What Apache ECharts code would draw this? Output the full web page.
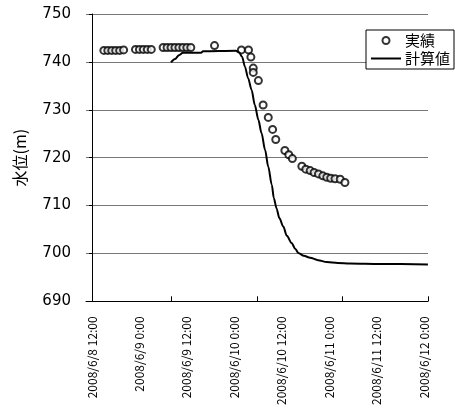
<!DOCTYPE html>
<html>
<head>
<meta charset="utf-8">
<script src="https://cdn.jsdelivr.net/npm/echarts@6/dist/echarts.min.js"></script>
<style>
  html, body { margin: 0; padding: 0; background: #fff; }
  #chart { width: 455px; height: 408px; }
</style>
</head>
<body>
<div id="chart"></div>
<script>
// hours counted from 2008/6/8 12:00
const tickLabels = ['2008/6/8 12:00', '2008/6/9 0:00', '2008/6/9 12:00', '2008/6/10 0:00',
                    '2008/6/10 12:00', '2008/6/11 0:00', '2008/6/11 12:00', '2008/6/12 0:00'];
const labelHours = [0, 12, 24, 36, 48, 60, 72, 84];
const tickHours = [20, 41.75, 63.26, 85.02];

// 実績 (observed)
const obsTime = [3, 4, 5, 6, 7, 8,
                 11, 12, 13, 14, 15,
                 18, 19, 20, 21, 22, 23, 24, 25,
                 31,
                 37.8, 39.6, 40.2, 40.8, 40.8, 42.1, 43.3, 44.6, 45.7, 46.5,
                 48.8, 49.8, 50.7, 53.1, 54.1, 55.2, 56.2, 57.3, 58.4, 59.4,
                 60.4, 61.5, 62.8, 64.0];
const obsLevel = [742.4, 742.4, 742.4, 742.4, 742.4, 742.5,
                  742.6, 742.6, 742.6, 742.6, 742.6,
                  743.0, 743.0, 743.0, 743.0, 743.0, 743.0, 743.0, 743.0,
                  743.4,
                  742.5, 742.5, 741.0, 738.7, 737.8, 736.1, 731.0, 728.4, 725.9, 723.8,
                  721.5, 720.6, 719.8, 718.2, 717.6, 717.3, 716.9, 716.6, 716.2, 715.9,
                  715.7, 715.6, 715.5, 714.8];

// 計算値 (calculated)
const calcTime = [20.0, 21.0, 22.0, 23.0, 27.6, 28.1, 36.4, 37.2, 38.0, 38.7,
                  39.5, 40.4, 41.2, 42.1, 42.9, 43.8, 44.6, 45.5, 46.0, 46.7,
                  47.4, 48.4, 49.3, 50.5, 51.4, 52.2, 53.6, 55.2, 57.2, 59.4,
                  62.2, 65.3, 72.9, 85.0];
const calcLevel = [739.9, 740.6, 741.4, 741.9, 741.9, 742.2, 742.3, 742.0, 741.0, 739.0,
                   736.6, 734.1, 731.0, 727.9, 725.1, 721.6, 718.1, 714.3, 711.6, 709.4,
                   707.4, 705.6, 703.7, 702.2, 701.0, 700.1, 699.5, 699.1, 698.6, 698.2,
                   698.0, 697.9, 697.8, 697.7];

const chart = echarts.init(document.getElementById('chart'));
chart.setOption({
    animation: false,
    backgroundColor: '#fff',
    grid: { left: 86, right: 27, top: 14, bottom: 106 },
    legend: {
        orient: 'vertical',
        left: 366,
        top: 30,
        padding: [3, 4, 3, 4],
        itemGap: 3,
        itemWidth: 30,
        itemHeight: 7,
        borderColor: '#000',
        borderWidth: 1,
        borderRadius: 0,
        backgroundColor: '#fff',
        textStyle: { fontSize: 15, color: '#000', fontFamily: 'Noto Sans CJK JP', padding: [0, 0, 0, -1] },
        data: [
            { name: '実績', icon: 'emptyCircle' },
            { name: '計算値', itemStyle: { opacity: 0 } }
        ]
    },
    xAxis: {
        type: 'value',
        min: -1.52,
        max: 85.02,
        axisLine: { show: true, lineStyle: { color: '#000', width: 1 } },
        axisTick: { show: true, inside: true, length: 5, customValues: tickHours, lineStyle: { color: '#000' } },
        splitLine: { show: false },
        axisLabel: {
            customValues: labelHours,
            rotate: 90,
            margin: 15,
            fontSize: 12,
            color: '#000',
            fontFamily: 'Noto Sans CJK JP',
            formatter: function (v) { return tickLabels[labelHours.indexOf(v)]; }
        }
    },
    yAxis: {
        type: 'value',
        min: 690,
        max: 750,
        interval: 10,
        name: '水位(m)',
        nameLocation: 'middle',
        nameGap: 58,
        nameTextStyle: { fontSize: 16, color: '#000', fontFamily: 'Noto Sans CJK JP' },
        axisLine: { show: true, lineStyle: { color: '#000', width: 1 } },
        axisTick: { show: true, length: 3, lineStyle: { color: '#000' } },
        axisLabel: { fontSize: 15, color: '#000', margin: 15, fontFamily: 'DejaVu Sans' },
        splitLine: { show: true, lineStyle: { color: '#777', width: 1 } }
    },
    series: [
        {
            name: '実績',
            type: 'scatter',
            symbol: 'emptyCircle',
            symbolSize: 7,
            itemStyle: { color: '#000', borderWidth: 1 },
            data: obsTime.map((t, i) => [t, obsLevel[i]])
        },
        {
            name: '計算値',
            type: 'line',
            symbol: 'none',
            smooth: 0.3,
            smoothMonotone: 'x',
            lineStyle: { color: '#000', width: 2 },
            itemStyle: { color: '#000' },
            data: calcTime.map((t, i) => [t, calcLevel[i]])
        }
    ]
});

window.addEventListener('resize', function () {
    chart.resize();
}, false);
</script>
</body>
</html>
